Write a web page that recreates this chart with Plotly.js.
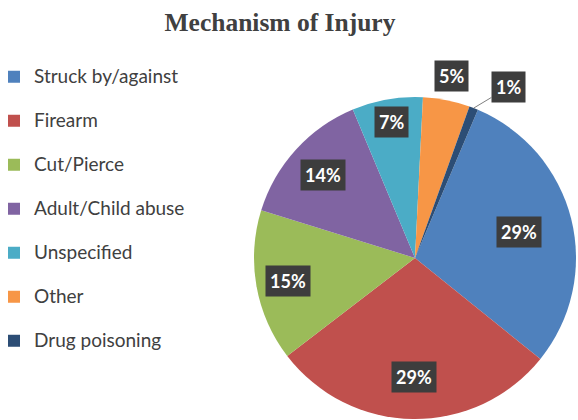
<!DOCTYPE html>
<html>
<head>
<meta charset="utf-8">
<script src="https://cdn.plot.ly/plotly-3.0.1.min.js"></script>
<style>html,body{margin:0;padding:0;background:#fff;}#chart{width:578px;height:420px;}</style>
</head>
<body>
<div id="chart"></div>
<script>
// ---- data ----
const categories = ['Struck by/against', 'Firearm', 'Cut/Pierce', 'Adult/Child abuse', 'Unspecified', 'Other', 'Drug poisoning'];
const values = [29.4, 28.8, 15.2, 13.9, 7.1, 4.7, 0.9];
const colors = ['#4F81BD', '#C0504D', '#9BBB59', '#8064A2', '#4BACC6', '#F79646', '#2C4D75'];

// ---- layout / style ----
const W = 578, H = 420;
const domX = [254 / W, 576 / W];
const domY = [1 - 419 / H, 1 - 97 / H];
const rotation = 23;
// label radius as fraction of pie radius (style)
const labelR = [0.665, 0.74, 0.80, 0.77, 0.86, 1.15, 1.0];
// pixel offsets for labels with leader lines (style)
const leaderOffset = {6: [35, -21]};

const total = values.reduce((a, b) => a + b, 0);
const cxPx = (domX[0] + domX[1]) / 2 * W;
const cyPx = (1 - (domY[0] + domY[1]) / 2) * H;
const R = Math.min((domX[1] - domX[0]) * W, (domY[1] - domY[0]) * H) / 2;

const annotations = [];
let cum = 0;
values.forEach((v, i) => {
  const mid = (rotation + 360 * (cum + v / 2) / total) * Math.PI / 180;
  cum += v;
  const px = cxPx + labelR[i] * R * Math.sin(mid);
  const py = cyPx - labelR[i] * R * Math.cos(mid);
  const off = leaderOffset[i];
  annotations.push({
    xref: 'paper', yref: 'paper',
    x: px / W, y: 1 - py / H,
    text: Math.round(v / total * 100) + '%',
    font: {family: 'Lato', size: 18, color: '#ffffff', weight: 'bold'},
    bgcolor: '#3d3d3d',
    borderpad: 4,
    showarrow: !!off,
    ax: off ? off[0] : 0,
    ay: off ? off[1] : 0,
    arrowhead: 0,
    arrowwidth: 1,
    arrowcolor: '#7f7f7f',
    xanchor: 'center', yanchor: 'middle'
  });
});

const legendLabels = categories.map(c => '<span style="font-size:19px">' + c + '</span><br> ');

const trace = {
  type: 'pie',
  labels: legendLabels,
  values: values,
  sort: false,
  direction: 'clockwise',
  rotation: rotation,
  textinfo: 'none',
  hoverinfo: 'percent',
  marker: {colors: colors, line: {width: 0}},
  domain: {x: domX, y: domY}
};

const layout = {
  width: W, height: H,
  margin: {l: 0, r: 0, t: 0, b: 0},
  paper_bgcolor: '#ffffff',
  title: {
    text: 'Mechanism of Injury',
    font: {family: 'Liberation Serif', size: 25.5, color: '#404040', weight: 'bold'},
    x: 280 / W, xanchor: 'center',
    y: 1 - 22 / H, yanchor: 'middle'
  },
  showlegend: true,
  legend: {
    x: 0, xanchor: 'left',
    y: 1 - 60 / H, yanchor: 'top',
    font: {family: 'Lato', size: 15.77, color: '#404040'},
    valign: 'top',
    indentation: -6,
    bgcolor: 'rgba(0,0,0,0)',
    borderwidth: 0
  },
  annotations: annotations
};

Plotly.newPlot('chart', [trace], layout, {displayModeBar: false, staticPlot: true});
</script>
</body>
</html>
